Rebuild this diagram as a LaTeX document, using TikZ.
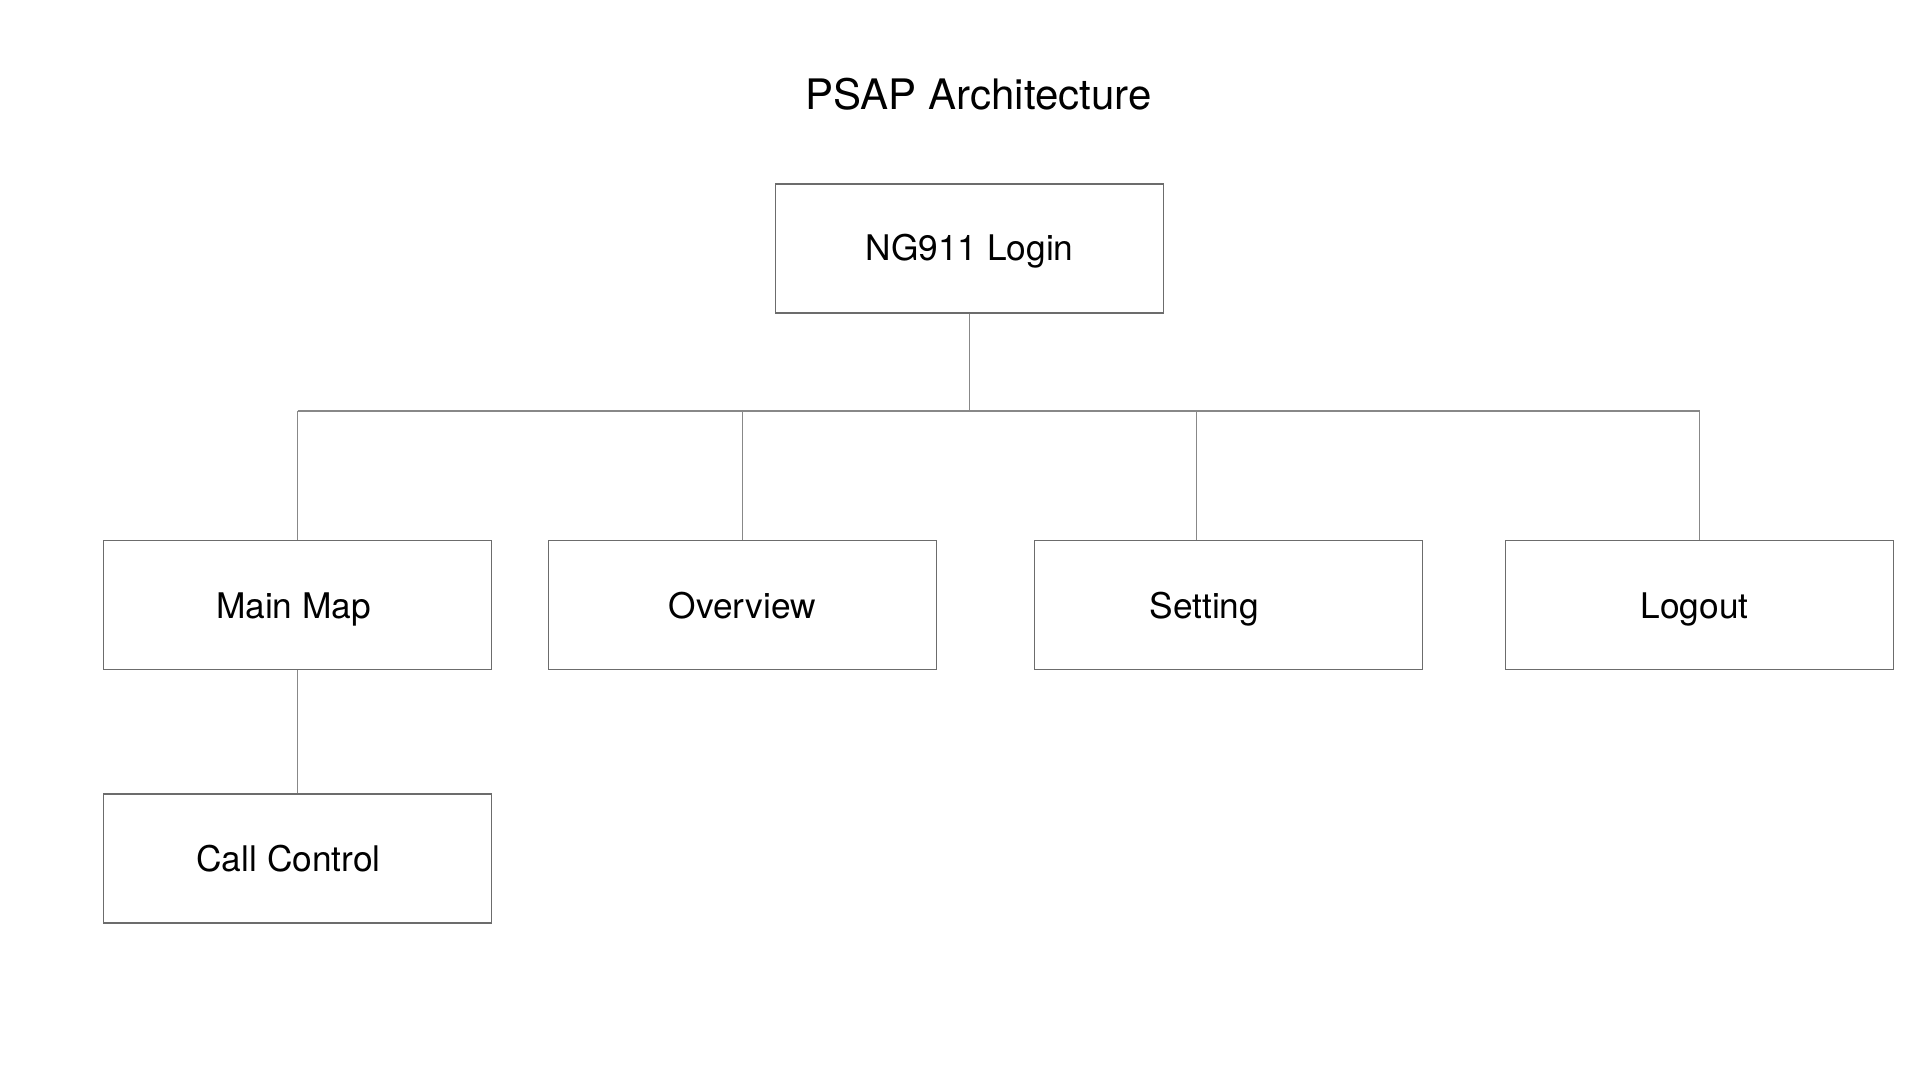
\documentclass[tikz,border=0pt]{standalone}
\usepackage{fontspec}
\setmainfont{TeX Gyre Heros}
\usepackage{tikz}

\definecolor{boxline}{RGB}{108,108,108}
\definecolor{linkline}{RGB}{136,136,136}

\tikzset{
    box/.style={draw=boxline, line width=1.5pt, minimum width=388pt, minimum height=129pt,
                inner sep=0pt, text height=27pt, text depth=0pt,
                font=\fontsize{35.3}{41}\selectfont},
    link/.style={draw=linkline, line width=1.1pt}
}

\begin{document}
\begin{tikzpicture}[x=1pt, y=-1pt]
        \useasboundingbox (0, 0) rectangle (1920, 1080);
        \node [anchor=base, font=\fontsize{42}{48}\selectfont] (title) at (978.5, 109) {PSAP Architecture};

        \node [box, text height=24.7pt] (login) at (969.5, 248.4) {NG911 Login};
        \node [box] (mainmap)  at (297.5, 605)   {Main Map\hspace*{8pt}};
        \node [box] (overview) at (742.3, 605)   {Overview};
        \node [box] (setting)  at (1228.3, 605)  {Setting\hspace*{48pt}};
        \node [box] (logout)   at (1699.5, 605)  {Logout\hspace*{10pt}};
        \node [box] (callctrl) at (297.5, 858.4) {Call Control\hspace*{18pt}};

        \coordinate (bus) at (0, 411);
        \coordinate (setjoin) at (1196.7, 411);

        \draw [link] (login.south) -- (login.south |- bus);
        \draw [link] (mainmap.north |- bus) -- (logout.north |- bus);
        \foreach \n in {mainmap, overview, logout}
            \draw [link] (\n.north |- bus) -- (\n.north);
        \draw [link] (setjoin) -- (setjoin |- setting.north);
        \draw [link] (mainmap.south) -- (callctrl.north);
    \end{tikzpicture}
\end{document}
